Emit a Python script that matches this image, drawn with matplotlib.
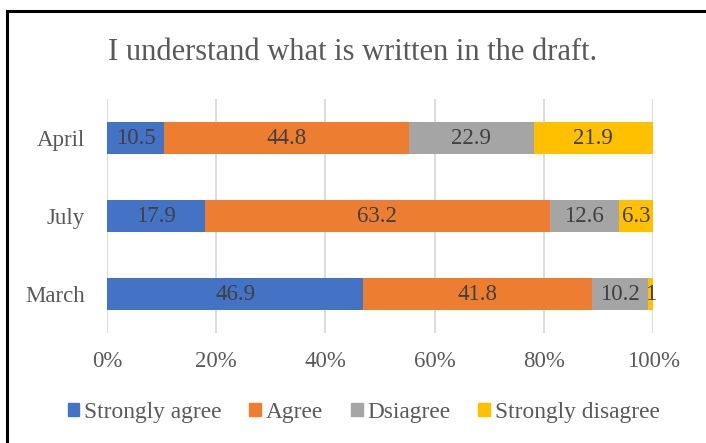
import numpy as np
import matplotlib.pyplot as plt
from matplotlib.lines import Line2D

plt.rcParams["font.family"] = ["Liberation Serif", "DejaVu Serif"]

# Categories listed bottom to top, the way Excel stacks them
months = ["March", "July", "April"]
series_names = ["Strongly agree", "Agree", "Dsiagree", "Strongly disagree"]
strongly_agree = [46.9, 17.9, 10.5]
agree = [41.8, 63.2, 44.8]
disagree = [10.2, 12.6, 22.9]
strongly_disagree = [1, 6.3, 21.9]
tick_labels = ["0%", "20%", "40%", "60%", "80%", "100%"]

colors = ["#4472C4", "#ED7D31", "#A5A5A5", "#FFC000"]
text_grey = "#595959"

data = np.array([strongly_agree, agree, disagree, strongly_disagree])
shares = data / data.sum(axis=0)

fig = plt.figure(figsize=(7.06, 4.43), dpi=100)
ax = fig.add_axes([0.1516, 0.2483, 0.7734, 0.5282])

y = np.arange(len(months))
left = np.zeros(len(months))
for i, name in enumerate(series_names):
    ax.barh(y, shares[i], left=left, height=0.4, color=colors[i],
            label=name, zorder=3)
    for j in range(len(months)):
        txt = "%g" % data[i][j]
        ax.text(left[j] + shares[i][j] / 2, y[j], txt, ha="center",
                va="center", fontsize=16.5, color="#404040", zorder=4)
    left += shares[i]

ax.set_xlim(0, 1)
ax.set_ylim(-0.5, len(months) - 0.5)
ax.set_xticks(np.linspace(0, 1, 6))
ax.set_xticklabels(tick_labels)
ax.set_yticks(y)
ax.set_yticklabels(months)
ax.tick_params(axis="both", length=0, labelsize=16.5, colors=text_grey)
ax.tick_params(axis="x", pad=13)
ax.tick_params(axis="y", pad=16)
ax.xaxis.grid(True, color="#D9D9D9", linewidth=1.3, zorder=0)
for s in ax.spines.values():
    s.set_visible(False)

fig.suptitle("I understand what is written in the draft.", y=0.915,
             fontsize=22, color=text_grey)

handles = [plt.Rectangle((0, 0), 1, 1, color=c) for c in colors]
fig.legend(handles, series_names, loc="center", bbox_to_anchor=(0.515, 0.069),
           ncol=4, frameon=False, fontsize=16.8, handlelength=0.5,
           handleheight=0.5, handletextpad=0.2, columnspacing=1.2,
           labelcolor=text_grey, borderaxespad=0)

# Outer border: only the top and left edges show in the reference
fig.add_artist(Line2D([6.5 / 706, 1.0], [1 - 10.5 / 443, 1 - 10.5 / 443],
                      color="black", linewidth=2.2, transform=fig.transFigure))
fig.add_artist(Line2D([6.5 / 706, 6.5 / 706], [0, 1 - 10.5 / 443],
                      color="black", linewidth=2.2, transform=fig.transFigure))

fig.savefig("out.png", dpi=100)
